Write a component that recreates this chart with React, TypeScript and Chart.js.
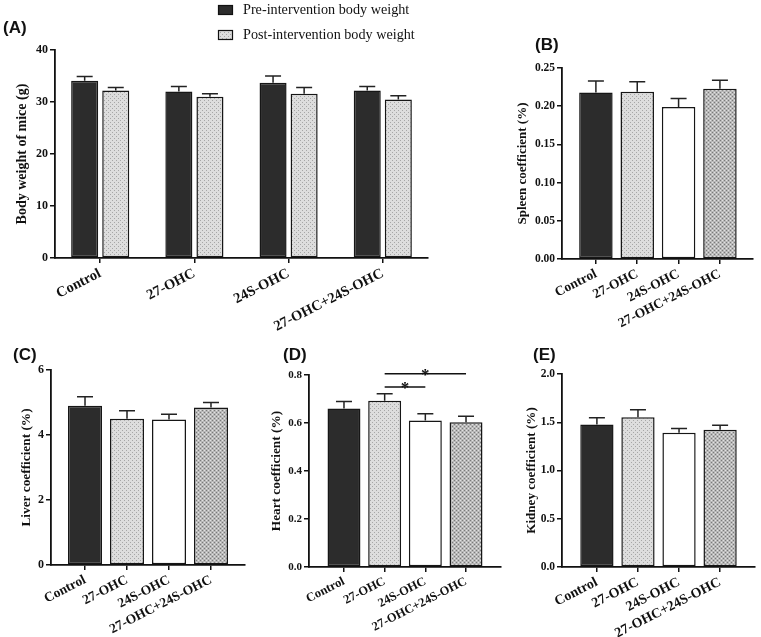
import React, { useEffect, useRef } from 'react';
import { Chart, registerables } from 'chart.js';

Chart.register(...registerables);

// ---------- data ----------
const categories = ['Control', '27-OHC', '24S-OHC', '27-OHC+24S-OHC'];

const preWeight = [34.1, 32.0, 33.7, 32.2];
const preWeightErr = [0.8, 1.0, 1.3, 0.8];
const postWeight = [32.2, 31.0, 31.6, 30.5];
const postWeightErr = [0.6, 0.6, 1.2, 0.7];

const spleen = [0.218, 0.219, 0.199, 0.223];
const spleenErr = [0.015, 0.013, 0.011, 0.011];

const liver = [4.9, 4.5, 4.48, 4.85];
const liverErr = [0.28, 0.25, 0.16, 0.15];

const heart = [0.66, 0.693, 0.61, 0.603];
const heartErr = [0.03, 0.029, 0.029, 0.025];

const kidney = [1.477, 1.553, 1.39, 1.421];
const kidneyErr = [0.069, 0.076, 0.045, 0.049];

const heartComparisons = [
  { from: 1, to: 3, level: 0.805, label: '*' },
  { from: 1, to: 2, level: 0.75, label: '*' },
];

const seriesLabels = ['Pre-intervention body weight', 'Post-intervention body weight'];

// ---------- styles ----------
const SERIF = "'Liberation Serif', 'Times New Roman', serif";
const SANS = "'Liberation Sans', Arial, sans-serif";
const INK = '#111111';

function makePattern(kind: string): any {
  const c = document.createElement('canvas');
  c.width = 4;
  c.height = 4;
  const g = c.getContext('2d')!;
  if (kind === 'dots') {
    g.fillStyle = '#dddddd';
    g.fillRect(0, 0, 4, 4);
    g.fillStyle = '#a6a6a6';
    g.fillRect(0, 0, 1, 1);
    g.fillRect(2, 2, 1, 1);
  } else {
    g.fillStyle = '#b8b8b8';
    g.fillRect(0, 0, 4, 4);
    g.fillStyle = '#7a7a7a';
    g.fillRect(0, 0, 1, 1);
    g.fillRect(2, 2, 1, 1);
    g.fillStyle = '#e2e2e2';
    g.fillRect(2, 0, 1, 1);
    g.fillRect(0, 2, 1, 1);
  }
  return g.createPattern(c, 'repeat');
}

const errorBarPlugin = {
  id: 'errorBars',
  afterDatasetsDraw(chart: any) {
    const ctx = chart.ctx;
    const yScale = chart.scales.y;
    chart.data.datasets.forEach((ds: any, di: number) => {
      if (!ds.errors) return;
      const meta = chart.getDatasetMeta(di);
      meta.data.forEach((el: any, i: number) => {
        const v = ds.data[i].y;
        const top = yScale.getPixelForValue(v + ds.errors[i]);
        const cap = ds.capWidth || 16;
        ctx.save();
        ctx.strokeStyle = '#222';
        ctx.lineWidth = 1.5;
        ctx.beginPath();
        ctx.moveTo(el.x, el.y);
        ctx.lineTo(el.x, top);
        ctx.moveTo(el.x - cap / 2, top);
        ctx.lineTo(el.x + cap / 2, top);
        ctx.stroke();
        ctx.restore();
      });
    });
  },
};

const legendPlugin = {
  id: 'boxLegend',
  afterDraw(chart: any) {
    const ctx = chart.ctx;
    chart.data.datasets.forEach((ds: any, i: number) => {
      const y = 5 + i * 25;
      ctx.save();
      ctx.fillStyle = ds.backgroundColor;
      ctx.fillRect(218, y, 15, 10);
      ctx.strokeStyle = INK;
      ctx.lineWidth = 1.2;
      ctx.strokeRect(218.5, y + 0.5, 14, 9);
      ctx.fillStyle = INK;
      ctx.font = `14.2px ${SERIF}`;
      ctx.textBaseline = 'middle';
      ctx.textAlign = 'left';
      ctx.fillText(ds.label, 243, y + 5);
      ctx.restore();
    });
  },
};

function sigPlugin(comparisons: any[]) {
  return {
    id: 'sigBars',
    afterDraw(chart: any) {
      const ctx = chart.ctx;
      const xs = chart.scales.x;
      const ys = chart.scales.y;
      comparisons.forEach((c) => {
        const x1 = xs.getPixelForValue(c.from);
        const x2 = xs.getPixelForValue(c.to);
        const y = ys.getPixelForValue(c.level);
        ctx.save();
        ctx.strokeStyle = INK;
        ctx.lineWidth = 1.5;
        ctx.beginPath();
        ctx.moveTo(x1, y);
        ctx.lineTo(x2, y);
        ctx.stroke();
        ctx.fillStyle = INK;
        ctx.font = `bold 17px ${SERIF}`;
        ctx.textAlign = 'center';
        ctx.textBaseline = 'alphabetic';
        ctx.fillText(c.label, (x1 + x2) / 2, y + 6);
        ctx.restore();
      });
    },
  };
}

type Panel = {
  key: string;
  left: number;
  top: number;
  width: number;
  height: number;
  area: { left: number; top: number; right: number; bottom: number };
  yMax: number;
  yStep: number;
  decimals: number;
  yTitle: string;
  titleSize: number;
  titleX: number;
  tickSize: number;
  xTickSize: number;
  xMin: number;
  xMax: number;
  series: { label: string; values: number[]; errors: number[]; fills: string[] }[];
  barPct: number;
  catPct: number;
  extra?: any[];
};

function PanelChart({ p }: { p: Panel }) {
  const ref = useRef<HTMLCanvasElement>(null);
  useEffect(() => {
    const canvas = ref.current!;
    const pats: Record<string, any> = {
      dark: '#2c2c2c',
      dots: makePattern('dots'),
      white: '#ffffff',
      cross: makePattern('cross'),
    };
    const datasets = p.series.map((s) => ({
      label: s.label,
      data: s.values.map((v, i) => ({ x: i, y: v })),
      errors: s.errors,
      capWidth: 16,
      backgroundColor: s.fills.length === 1 ? pats[s.fills[0]] : s.fills.map((f) => pats[f]),
      borderColor: '#161616',
      borderWidth: 1.5,
      borderSkipped: false,
      barPercentage: p.barPct,
      categoryPercentage: p.catPct,
    }));
    const lh = p.titleSize * 1.2;
    const chart = new Chart(canvas, {
      type: 'bar',
      data: { datasets: datasets as any },
      options: {
        animation: false,
        responsive: false,
        maintainAspectRatio: false,
        layout: {
          padding: { left: 0, top: p.area.top, right: p.width - p.area.right, bottom: 0 },
        },
        plugins: {
          legend: { display: false },
          tooltip: { enabled: false },
        },
        scales: {
          x: {
            type: 'linear',
            offset: false,
            min: p.xMin,
            max: p.xMax,
            grid: {
              display: true,
              offset: false,
              drawOnChartArea: false,
              drawTicks: true,
              tickLength: 5,
              lineWidth: 1.5,
              color: INK,
            },
            border: { display: true, color: INK, width: 1.8 },
            afterBuildTicks: (s: any) => {
              s.ticks = categories.map((_, i) => ({ value: i }));
            },
            afterFit: (s: any) => {
              s.height = p.height - p.area.bottom;
            },
            ticks: {
              autoSkip: false,
              minRotation: 27,
              maxRotation: 27,
              padding: 2,
              color: INK,
              font: { family: SERIF, size: p.xTickSize, weight: 'bold' },
              callback: (v: any) => categories[Math.round(Number(v))] ?? '',
            },
          },
          y: {
            type: 'linear',
            min: 0,
            max: p.yMax,
            grid: {
              display: true,
              drawOnChartArea: false,
              drawTicks: true,
              tickLength: 5,
              lineWidth: 1.5,
              color: INK,
            },
            border: { display: true, color: INK, width: 1.8 },
            afterFit: (s: any) => {
              s.width = p.area.left;
            },
            ticks: {
              stepSize: p.yStep,
              padding: 2,
              color: INK,
              font: { family: SERIF, size: p.tickSize, weight: 'bold' },
              callback: (v: any) => Number(v).toFixed(p.decimals),
            },
            title: {
              display: true,
              text: p.yTitle,
              color: INK,
              font: { family: SERIF, size: p.titleSize, weight: 'bold' },
              padding: { top: p.titleX - lh / 2, bottom: 0 },
            },
          },
        },
      } as any,
      plugins: [errorBarPlugin, ...(p.extra || [])] as any,
    });
    return () => chart.destroy();
  }, [p]);
  return (
    <canvas
      ref={ref}
      width={p.width}
      height={p.height}
      style={{ position: 'absolute', left: p.left, top: p.top, width: p.width, height: p.height }}
    />
  );
}

const singleFills = ['dark', 'dots', 'white', 'cross'];

const panels: Panel[] = [
  {
    key: 'A', left: 0, top: 0, width: 470, height: 335,
    area: { left: 55, top: 50, right: 428, bottom: 258 },
    yMax: 40, yStep: 10, decimals: 0,
    yTitle: 'Body weight of mice (g)', titleSize: 14, titleX: 22,
    tickSize: 12, xTickSize: 14.5, xMin: -0.48, xMax: 3.48,
    series: [
      { label: seriesLabels[0], values: preWeight, errors: preWeightErr, fills: ['dark'] },
      { label: seriesLabels[1], values: postWeight, errors: postWeightErr, fills: ['dots'] },
    ],
    barPct: 0.87, catPct: 0.66, extra: [legendPlugin],
  },
  {
    key: 'B', left: 480, top: 20, width: 281, height: 320,
    area: { left: 82, top: 48, right: 273, bottom: 239 },
    yMax: 0.25, yStep: 0.05, decimals: 2,
    yTitle: 'Spleen coefficient (%)', titleSize: 13, titleX: 43,
    tickSize: 11.5, xTickSize: 13.5, xMin: -0.82, xMax: 3.8,
    series: [{ label: 'Spleen', values: spleen, errors: spleenErr, fills: singleFills }],
    barPct: 0.81, catPct: 1,
  },
  {
    key: 'C', left: 0, top: 340, width: 250, height: 297,
    area: { left: 51, top: 30, right: 245, bottom: 225 },
    yMax: 6, yStep: 2, decimals: 0,
    yTitle: 'Liver coefficient (%)', titleSize: 13.3, titleX: 27,
    tickSize: 12, xTickSize: 13.5, xMin: -0.81, xMax: 3.81,
    series: [{ label: 'Liver', values: liver, errors: liverErr, fills: singleFills }],
    barPct: 0.81, catPct: 1,
  },
  {
    key: 'D', left: 250, top: 340, width: 255, height: 297,
    area: { left: 59, top: 35, right: 251, bottom: 227 },
    yMax: 0.8, yStep: 0.2, decimals: 1,
    yTitle: 'Heart coefficient (%)', titleSize: 13.3, titleX: 27,
    tickSize: 11, xTickSize: 12.5, xMin: -0.86, xMax: 3.86,
    series: [{ label: 'Heart', values: heart, errors: heartErr, fills: singleFills }],
    barPct: 0.81, catPct: 1, extra: [sigPlugin(heartComparisons)],
  },
  {
    key: 'E', left: 505, top: 340, width: 256, height: 297,
    area: { left: 57, top: 34, right: 250, bottom: 227 },
    yMax: 2, yStep: 0.5, decimals: 1,
    yTitle: 'Kidney coefficient (%)', titleSize: 13.1, titleX: 27,
    tickSize: 11.5, xTickSize: 14, xMin: -0.85, xMax: 3.85,
    series: [{ label: 'Kidney', values: kidney, errors: kidneyErr, fills: singleFills }],
    barPct: 0.81, catPct: 1,
  },
];

const panelLabels = [
  { text: '(A)', left: 3, top: 19 },
  { text: '(B)', left: 535, top: 36 },
  { text: '(C)', left: 13, top: 346 },
  { text: '(D)', left: 283, top: 346 },
  { text: '(E)', left: 533, top: 346 },
];

export default function App() {
  return (
    <div style={{ position: 'absolute', left: 0, top: 0, width: 761, height: 637, background: '#fff', overflow: 'hidden' }}>
      {panels.map((p) => (
        <PanelChart key={p.key} p={p} />
      ))}
      {panelLabels.map((l) => (
        <div
          key={l.text}
          style={{
            position: 'absolute', left: l.left, top: l.top, fontFamily: SANS,
            fontWeight: 'bold', fontSize: 17, lineHeight: '18px', color: INK,
          }}
        >
          {l.text}
        </div>
      ))}
    </div>
  );
}
